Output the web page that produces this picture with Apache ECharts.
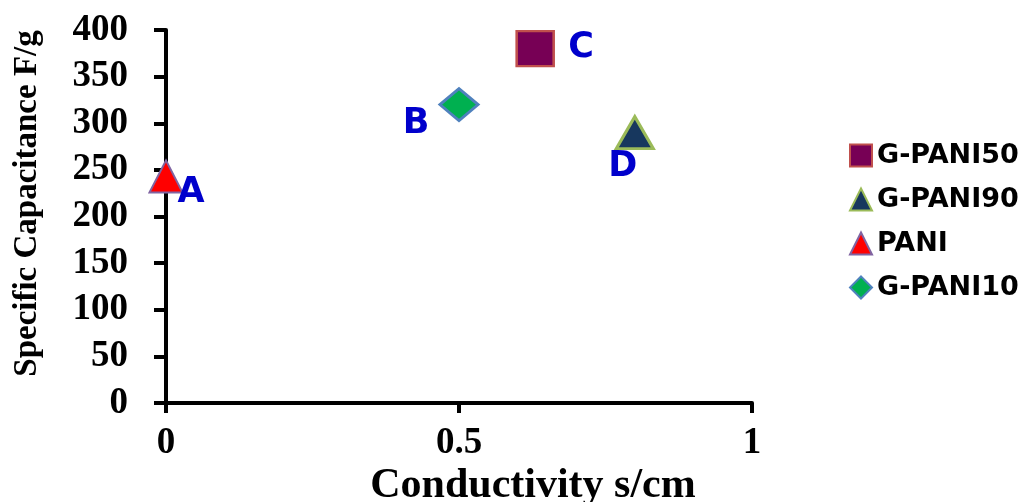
<!DOCTYPE html>
<html>
<head>
<meta charset="utf-8">
<script src="https://cdn.jsdelivr.net/npm/echarts@6/dist/echarts.min.js"></script>
<style>
html,body{margin:0;padding:0;background:#fff;}
#chart{width:1024px;height:502px;}
</style>
</head>
<body>
<div id="chart"></div>
<script>
const seriesNames = ['G-PANI50', 'G-PANI90', 'PANI', 'G-PANI10'];
const conductivity = [0.63, 0.8, 0, 0.5];
const capacitance = [380, 290, 243, 320];
const pointLabels = ['C', 'D', 'A', 'B'];
const xAxisTitle = 'Conductivity s/cm';
const yAxisTitle = 'Specific Capacitance F/g';

const symbols = ['rect', 'triangle', 'triangle', 'diamond'];
const symbolSizes = [[37, 35], [37, 32], [33, 32], [38, 32]];
const fills = ['#770055', '#17375E', '#FF0000', '#00B050'];
const borders = ['#C0504D', '#9BBB59', '#8064A2', '#4F81BD'];
const borderWidths = [2.5, 3, 2, 3];
const labelOffsets = [[46, -1], [-12, 34], [25, 17], [-43, 19]];

const chart = echarts.init(document.getElementById('chart'), null, {renderer: 'canvas'});

const series = seriesNames.map((name, i) => ({
  name: name,
  type: 'scatter',
  symbol: symbols[i],
  symbolSize: symbolSizes[i],
  itemStyle: {color: fills[i], borderColor: borders[i], borderWidth: borderWidths[i], opacity: 1},
  label: {
    show: true,
    position: 'inside',
    offset: labelOffsets[i],
    formatter: pointLabels[i],
    color: '#0000CC',
    fontFamily: 'DejaVu Sans',
    fontWeight: 'bold',
    fontSize: 35
  },
  emphasis: {disabled: true},
  data: [[conductivity[i], capacitance[i]]]
}));

chart.setOption({
  animation: false,
  backgroundColor: '#fff',
  grid: {left: 166, right: 272, top: 30, bottom: 99, containLabel: false, outerBoundsMode: 'none'},
  legend: {
    orient: 'vertical',
    left: 844,
    top: 137,
    itemWidth: 22,
    itemHeight: 22,
    itemGap: 17,
    data: seriesNames,
    textStyle: {fontFamily: 'DejaVu Sans', fontWeight: 'bold', fontSize: 27, color: '#000', lineHeight: 27}
  },
  xAxis: {
    type: 'value',
    min: 0, max: 1, interval: 0.5,
    name: xAxisTitle,
    nameLocation: 'middle',
    nameGap: 62,
    nameMoveOverlap: false,
    nameTextStyle: {fontFamily: 'Liberation Serif', fontWeight: 'bold', fontSize: 42, color: '#000', padding: [0, 0, 0, 148]},
    axisLine: {show: true, lineStyle: {color: '#000', width: 4}},
    axisTick: {show: true, inside: false, length: 10, lineStyle: {color: '#000', width: 4}},
    axisLabel: {margin: 22, fontFamily: 'Liberation Serif', fontWeight: 'bold', fontSize: 37, color: '#000', formatter: v => String(v)},
    splitLine: {show: false}
  },
  yAxis: {
    type: 'value',
    min: 0, max: 400, interval: 50,
    name: yAxisTitle,
    nameLocation: 'middle',
    nameGap: 122,
    nameMoveOverlap: false,
    nameTextStyle: {fontFamily: 'Liberation Serif', fontWeight: 'bold', fontSize: 33, color: '#000', padding: [0, 0, 0, 26]},
    axisLine: {show: true, lineStyle: {color: '#000', width: 4}},
    axisTick: {show: true, inside: false, length: 12, lineStyle: {color: '#000', width: 4}},
    axisLabel: {margin: 38, fontFamily: 'Liberation Serif', fontWeight: 'bold', fontSize: 37, color: '#000'},
    splitLine: {show: false}
  },
  series: series
});
</script>
</body>
</html>
